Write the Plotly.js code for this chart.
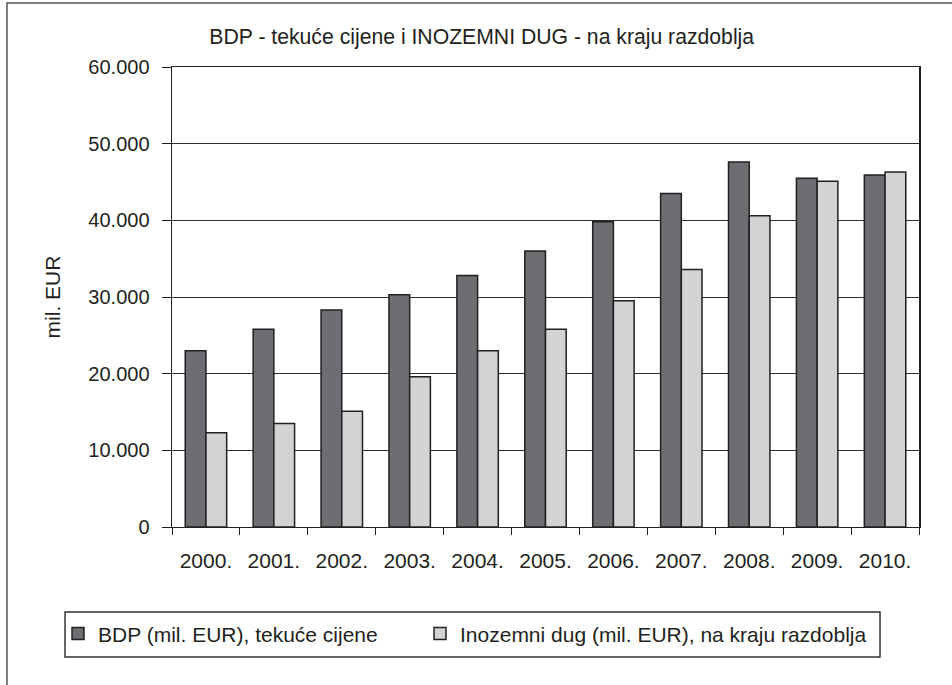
<!DOCTYPE html>
<html>
<head>
<meta charset="utf-8">
<script src="https://cdn.plot.ly/plotly-3.0.1.min.js"></script>
<style>
html,body{margin:0;padding:0;background:#fff;}
#chart{width:952px;height:685px;}
</style>
</head>
<body>
<div id="chart"></div>
<script>
const years = ['2000.','2001.','2002.','2003.','2004.','2005.','2006.','2007.','2008.','2009.','2010.'];
const bdp = [23000, 25800, 28300, 30300, 32800, 36000, 39800, 43500, 47600, 45500, 45900];
const debt = [12300, 13500, 15100, 19600, 23000, 25800, 29500, 33600, 40600, 45100, 46300];
const yTicks = [0, 10000, 20000, 30000, 40000, 50000, 60000];
const seriesNames = ['BDP (mil. EUR), tekuće cijene', 'Inozemni dug (mil. EUR), na kraju razdoblja'];

const font = 'Liberation Sans, Arial, sans-serif';
const txt = '#231f20';

const traces = [
  {type:'bar', x:years, y:bdp, name:seriesNames[0], legend:'legend',
   marker:{color:'#6d6e71', line:{color:'#231f20', width:1.5}}},
  {type:'bar', x:years, y:debt, name:seriesNames[1], legend:'legend2',
   marker:{color:'#d1d3d4', line:{color:'#231f20', width:1.5}}}
];

const legendBase = {orientation:'h', xref:'paper', yref:'container', xanchor:'left', y:0.0745, yanchor:'middle',
  borderwidth:0, bgcolor:'rgba(0,0,0,0)', itemwidth:30,
  font:{family:font, size:21, color:txt}, itemclick:false};

const layout = {
  width:952, height:685,
  margin:{l:172, r:33, t:67, b:158},
  paper_bgcolor:'#fff', plot_bgcolor:'#fff',
  separators:',.',
  font:{family:font, size:20, color:txt},
  title:{text:'BDP - tekuće cijene i INOZEMNI DUG - na kraju razdoblja',
         font:{family:font, size:21.2, color:txt},
         x:0.506, xref:'container', xanchor:'center', y:0.946, yref:'container', yanchor:'middle'},
  barmode:'group', bargap:0.39, bargroupgap:0,
  xaxis:{type:'category', tickson:'boundaries', ticks:'outside', ticklen:7, tickcolor:'#231f20',
         showline:true, linecolor:'#231f20', linewidth:1, mirror:true,
         tickfont:{family:font, size:21, color:txt}, ticklabelstandoff:15, showgrid:false},
  yaxis:{range:[0,60000], tickvals:yTicks, tickformat:',d', ticks:'outside', ticklen:9, tickcolor:'#231f20',
         showline:true, linecolor:'#231f20', linewidth:1.5, mirror:true,
         gridcolor:'#2e2e2e', gridwidth:1, zeroline:false,
         tickfont:{family:font, size:20, color:txt}, ticklabelstandoff:8,
         title:{text:'mil. EUR', font:{family:font, size:21, color:txt}, standoff:22}},
  showlegend:true,
  legend:Object.assign({}, legendBase, {x:-0.1526}),
  legend2:Object.assign({}, legendBase, {x:0.332}),
  shapes:[
    {type:'rect', xref:'paper', yref:'paper', x0:-0.2209, x1:1.2, y0:-0.4, y1:1.139,
     line:{color:'#555555', width:1.5}, fillcolor:'rgba(0,0,0,0)', layer:'below'},
    {type:'rect', xref:'paper', yref:'paper', x0:-0.1432, x1:0.9478, y0:-0.2826, y1:-0.1848,
     line:{color:'#333333', width:1.5}, fillcolor:'rgba(0,0,0,0)', layer:'below'}
  ]
};

Plotly.newPlot('chart', traces, layout, {displayModeBar:false, staticPlot:true});
</script>
</body>
</html>
